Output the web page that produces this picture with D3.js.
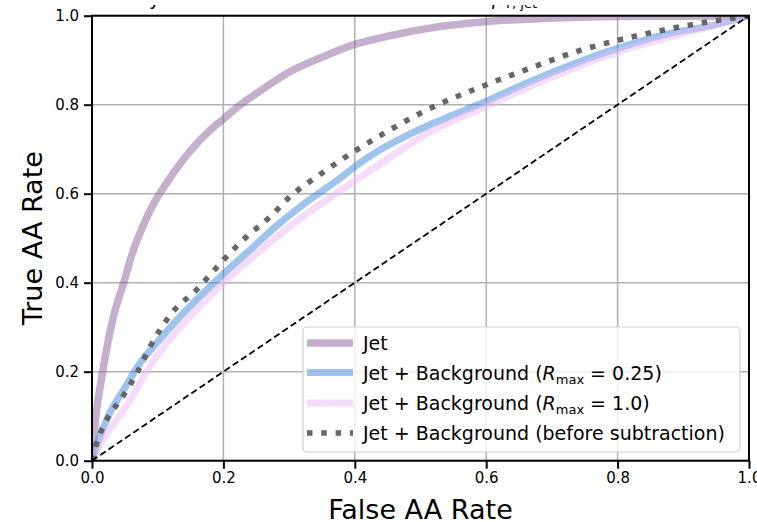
<!DOCTYPE html>
<html><head><meta charset="utf-8">
<script src="https://cdn.jsdelivr.net/npm/d3@7"></script>
<style>body{margin:0;background:#fff}svg{display:block;font-family:"DejaVu Sans",sans-serif}</style>
</head><body>
<svg id="c" width="757" height="522"></svg>
<script>
// ---- data ----
const xTicks = [0.0, 0.2, 0.4, 0.6, 0.8, 1.0];
const yTicks = [0.0, 0.2, 0.4, 0.6, 0.8, 1.0];
const tickLabels = ["0.0", "0.2", "0.4", "0.6", "0.8", "1.0"];

const fprJet = [0, 0.002, 0.007, 0.014, 0.022, 0.032, 0.048, 0.063, 0.083, 0.093, 0.114, 0.149, 0.180, 0.201, 0.225, 0.251, 0.301, 0.352, 0.401, 0.454, 0.514, 0.602, 0.692, 0.801, 0.900, 1.0];
const tprJet = [0, 0.040, 0.114, 0.180, 0.249, 0.320, 0.399, 0.473, 0.545, 0.575, 0.625, 0.695, 0.743, 0.769, 0.799, 0.826, 0.874, 0.908, 0.936, 0.955, 0.972, 0.987, 0.994, 0.998, 0.999, 1.0];

const fprR025 = [0, 0.012, 0.027, 0.048, 0.073, 0.098, 0.129, 0.164, 0.201, 0.240, 0.281, 0.327, 0.377, 0.403, 0.438, 0.489, 0.540, 0.602, 0.667, 0.743, 0.801, 0.870, 0.946, 1.0];
const tprR025 = [0, 0.054, 0.107, 0.159, 0.219, 0.264, 0.316, 0.369, 0.421, 0.473, 0.528, 0.582, 0.634, 0.664, 0.698, 0.738, 0.771, 0.809, 0.852, 0.897, 0.927, 0.957, 0.979, 1.0];

const fprR10 = [0, 0.012, 0.048, 0.098, 0.149, 0.200, 0.301, 0.403, 0.438, 0.500, 0.602, 0.700, 0.801, 0.900, 1.0];
const tprR10 = [0, 0.035, 0.114, 0.234, 0.324, 0.399, 0.526, 0.632, 0.666, 0.727, 0.798, 0.862, 0.919, 0.960, 1.0];

const fprRaw = [0, 0.007, 0.022, 0.045, 0.068, 0.088, 0.121, 0.159, 0.200, 0.235, 0.271, 0.301, 0.347, 0.398, 0.438, 0.504, 0.602, 0.667, 0.743, 0.801, 0.895, 1.0];
const tprRaw = [0, 0.039, 0.091, 0.140, 0.196, 0.255, 0.331, 0.384, 0.451, 0.503, 0.548, 0.593, 0.643, 0.694, 0.730, 0.784, 0.846, 0.882, 0.922, 0.945, 0.975, 1.0];

const diagX = [0, 1];
const diagY = [0, 1];

const seriesNames = ["Jet", "Jet + Background (R025)", "Jet + Background (R10)", "Jet + Background (before subtraction)"];

// ---- layout ----
const svg = d3.select("#c");
const L = 92, R = 749, T = 15.7, B = 460.7;
const x = d3.scaleLinear().domain([0, 1]).range([L, R]);
const y = d3.scaleLinear().domain([0, 1]).range([B, T]);

const defs = svg.append("defs");
defs.append("clipPath").attr("id", "clip")
  .append("rect").attr("x", L).attr("y", T).attr("width", R - L).attr("height", B - T);
defs.append("clipPath").attr("id", "clipTitle")
  .append("rect").attr("x", 0).attr("y", 5).attr("width", 757).attr("height", 9);

// grid
const grid = svg.append("g");
grid.selectAll("line.gx").data(xTicks).join("line")
  .attr("x1", d => x(d)).attr("x2", d => x(d)).attr("y1", T).attr("y2", B)
  .attr("stroke", "#b0b0b0").attr("stroke-width", 1.5);
grid.selectAll("line.gy").data(yTicks).join("line")
  .attr("y1", d => y(d)).attr("y2", d => y(d)).attr("x1", L).attr("x2", R)
  .attr("stroke", "#b0b0b0").attr("stroke-width", 1.5);

const line = d3.line().x(d => x(d[0])).y(d => y(d[1])).curve(d3.curveMonotoneX);
const zip = (a, b) => a.map((v, i) => [v, b[i]]);

const styles = [
  {data: zip(fprJet, tprJet), color: "rgb(137,97,153)", op: 0.5, w: 7.5, dash: null},
  {data: zip(fprR025, tprR025), color: "rgb(61,137,221)", op: 0.5, w: 7, dash: null},
  {data: zip(fprR10, tprR10), color: "rgb(233,185,245)", op: 0.5, w: 7, dash: null},
  {data: zip(fprRaw, tprRaw), color: "#5f5f5f", op: 0.95, w: 5.5, dash: "5.5 8.8"}
];

const plot = svg.append("g").attr("clip-path", "url(#clip)");
styles.forEach(s => {
  plot.append("path").datum(s.data).attr("d", line)
    .attr("fill", "none").attr("stroke", s.color).attr("stroke-opacity", s.op)
    .attr("stroke-width", s.w).attr("stroke-linejoin", "round")
    .attr("stroke-dasharray", s.dash);
});
plot.append("path").datum(zip(diagX, diagY)).attr("d", d3.line().x(d => x(d[0])).y(d => y(d[1])))
  .attr("fill", "none").attr("stroke", "#000").attr("stroke-width", 1.8)
  .attr("stroke-dasharray", "6.5 3.5");

// axes
const xAxis = d3.axisBottom(x).tickValues(xTicks).tickFormat((d, i) => tickLabels[i]).tickSize(8).tickPadding(4);
const yAxis = d3.axisLeft(y).tickValues(yTicks).tickFormat((d, i) => tickLabels[i]).tickSize(8).tickPadding(5);
const gx = svg.append("g").attr("transform", `translate(0,${B})`).call(xAxis);
const gy = svg.append("g").attr("transform", `translate(${L},0)`).call(yAxis);
[gx, gy].forEach(g => {
  g.select(".domain").remove();
  g.selectAll(".tick line").attr("stroke", "#000").attr("stroke-width", 2);
  g.selectAll(".tick text").attr("font-size", 15).attr("fill", "#000").attr("font-family", "DejaVu Sans");
});
// spines
svg.append("rect").attr("x", L).attr("y", T).attr("width", R - L).attr("height", B - T)
  .attr("fill", "none").attr("stroke", "#000").attr("stroke-width", 2);

// axis labels
svg.append("text").attr("x", (L + R) / 2).attr("y", 519).attr("text-anchor", "middle")
  .attr("font-size", 27).text("False AA Rate");
svg.append("text").attr("transform", `translate(42,${(T + B) / 2}) rotate(-90)`)
  .attr("text-anchor", "middle").attr("font-size", 27).text("True AA Rate");

// title, cut off by the top of the figure (only descenders visible)
const title = svg.append("text").attr("y", 4.5).attr("font-size", 19).attr("clip-path", "url(#clipTitle)");
title.append("tspan").attr("x", 77).text("Anomaly Detection Rate for 1 TeV <");
title.append("tspan").attr("x", 492).attr("font-style", "italic").text("p");
title.append("tspan").attr("font-size", 13).attr("dy", 3.5).text("T, jet");

// legend
const lg = svg.append("g");
lg.append("rect").attr("x", 303).attr("y", 327).attr("width", 437).attr("height", 125)
  .attr("rx", 4).attr("fill", "#fff").attr("fill-opacity", 0.8)
  .attr("stroke", "#d0d0d0").attr("stroke-width", 1.2);
const rowY = [343, 372.5, 403, 433];
styles.forEach((s, i) => {
  lg.append("line").attr("x1", 307).attr("x2", 353).attr("y1", rowY[i]).attr("y2", rowY[i])
    .attr("stroke", s.color).attr("stroke-opacity", s.op).attr("stroke-width", s.w)
    .attr("stroke-dasharray", s.dash);
});
function legText(i, parts) {
  const t = lg.append("text").attr("x", 363).attr("y", rowY[i] + 7).attr("font-size", 19).attr("fill", "#000");
  parts(t);
}
legText(0, t => t.text(seriesNames[0]));
legText(1, t => {
  t.append("tspan").text("Jet + Background (");
  t.append("tspan").attr("font-style", "italic").text("R");
  t.append("tspan").attr("font-size", 13).attr("dy", 4).text("max");
  t.append("tspan").attr("dy", -4).text(" = 0.25)");
});
legText(2, t => {
  t.append("tspan").text("Jet + Background (");
  t.append("tspan").attr("font-style", "italic").text("R");
  t.append("tspan").attr("font-size", 13).attr("dy", 4).text("max");
  t.append("tspan").attr("dy", -4).text(" = 1.0)");
});
legText(3, t => t.text(seriesNames[3]));
</script>
</body></html>
